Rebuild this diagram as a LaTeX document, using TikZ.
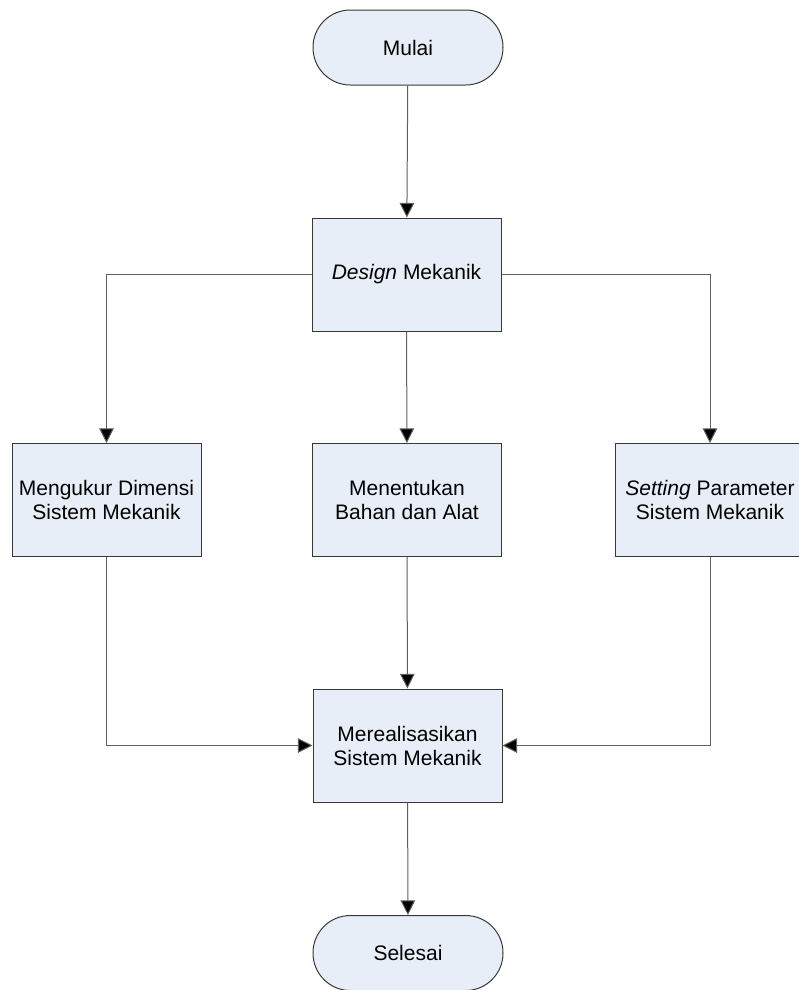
\documentclass[tikz,border=0pt]{standalone}
\usepackage{fontspec}
\setmainfont{Liberation Sans}
\usetikzlibrary{arrows.meta}

\definecolor{boxfill}{HTML}{E8EEF7}
\definecolor{boxline}{HTML}{383838}
\definecolor{arrowline}{HTML}{606060}

\begin{document}
\begin{tikzpicture}[x=0.75pt,y=-0.75pt,
        proses/.style={draw=boxline,fill=boxfill,line width=0.75pt,
          minimum width=141.75pt,minimum height=84.75pt,inner sep=0pt,
          align=center,font=\fontsize{15.75}{18}\selectfont},
        terminal/.style={proses,minimum height=56.25pt,minimum width=142.5pt,
          rounded corners=28pt},
        panah/.style={draw=arrowline,line width=0.75pt,
          -{Triangle[width=11pt,length=11pt,fill=black]}}]
        \useasboundingbox (0,0) rectangle (799,990) ;
        % bentuk
        \node[terminal] (mulai) at (408,47.5) {Mulai} ;
        \node[proses] (design) at (406.5,274.5) {\textit{Design} Mekanik} ;
        \node[proses] (ukur) at (106.5,500) {Mengukur Dimensi\\Sistem Mekanik} ;
        \node[proses] (bahan) at (407,500) {Menentukan\\Bahan dan Alat} ;
        \node[proses] (setting) at (710,500) {\textit{Setting} Parameter\\Sistem Mekanik} ;
        \node[proses] (realisasi) at (407.5,745.5) {Merealisasikan\\Sistem Mekanik} ;
        \node[terminal] (selesai) at (408,953) {Selesai} ;
        % panah
        \draw[panah] (mulai) -- (design) ;
        \draw[panah] (design.west) -| (ukur.north) ;
        \draw[panah] (design) -- (bahan) ;
        \draw[panah] (design.east) -| (setting.north) ;
        \draw[panah] (ukur.south) |- (realisasi.west) ;
        \draw[panah] (bahan) -- (realisasi) ;
        \draw[panah] (setting.south) |- (realisasi.east) ;
        \draw[panah] (realisasi) -- (selesai) ;
\end{tikzpicture}
\end{document}
